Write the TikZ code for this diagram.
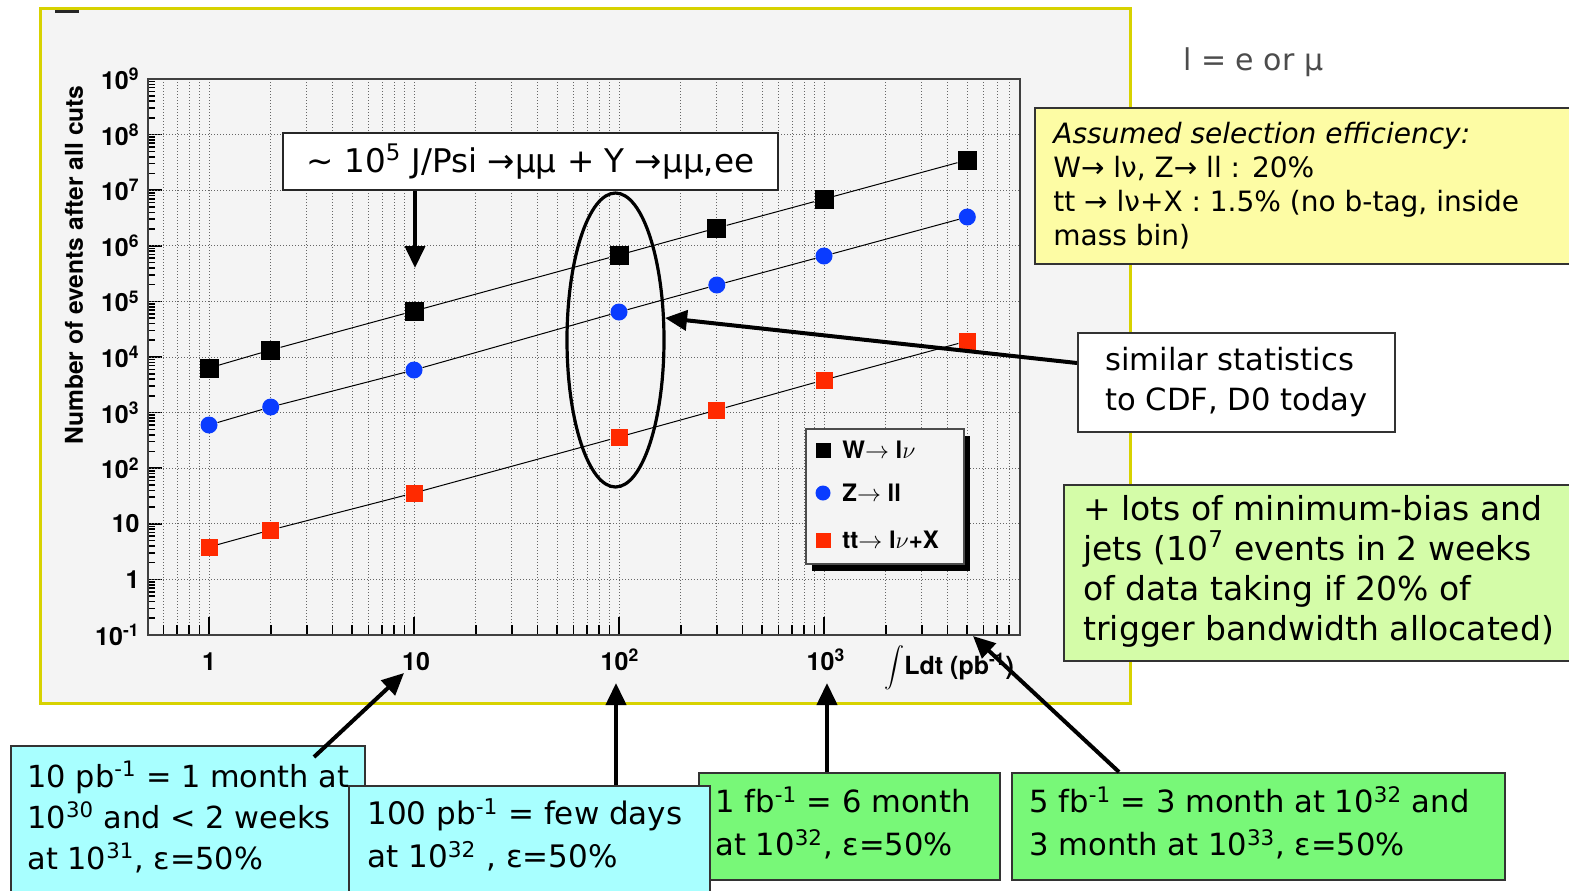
\documentclass[tikz,border=0pt]{standalone}
\usepackage{fontspec}
\setmainfont{DejaVu Sans}
\newfontfamily\hv{TeX Gyre Heros}
\usetikzlibrary{arrows.meta,shapes.geometric}
\definecolor{panelbg}{HTML}{F4F4F4}
\definecolor{panelline}{RGB}{215,210,0}
\definecolor{yelbox}{HTML}{FDFCA4}
\definecolor{ltgreen}{HTML}{D4FCA8}
\definecolor{cyanbox}{HTML}{A8FFFF}
\definecolor{greenbox}{HTML}{78F878}
\definecolor{zblue}{HTML}{0A3CFF}
\definecolor{tred}{HTML}{FF2A00}
\begin{document}
\begin{tikzpicture}[x=0.5pt,y=-0.5pt,
  boxline/.style={draw=black!80, line width=1pt},
  arr/.style={line width=2pt, -{Triangle[length=11pt,width=10pt]}},
  wm/.style={rectangle, fill=black, minimum size=9.5pt, inner sep=0pt},
  zm/.style={circle, fill=zblue, minimum size=8.5pt, inner sep=0pt},
  tm/.style={rectangle, fill=tred, minimum size=8.5pt, inner sep=0pt},
  ser/.style={line width=0.5pt, black},
  gridv/.style={densely dotted, black!60, line width=0.5pt},
  tick/.style={line width=0.8pt, black},
  ylab/.style={font=\hv\bfseries\fontsize{12.5}{14}\selectfont, inner sep=0pt},
  legtxt/.style={font=\hv\bfseries\fontsize{12}{14}\selectfont, inner sep=0pt, anchor=west},
  txt/.style={inner sep=0pt, align=left, anchor=west}
]
\useasboundingbox (0,0) rectangle (1569,890);
\fill[white] (0,0) rectangle (1569,890);
% plot panel
\draw[panelline, line width=1.5pt, fill=panelbg] (40,8) rectangle (1130,703);
\draw[line width=1.5pt, black!85] (55,11) -- (79,11);
% vertical grid + x ticks
\foreach \d in {-1,0,1,2,3}{
  \foreach \m in {1,...,9}{
    \pgfmathsetmacro\xx{209+205*(\d+log10(\m))}
    \pgfmathtruncatemacro\ok{(\xx>150 && \xx<1018) ? 1 : 0}
    \pgfmathtruncatemacro\tl{\m==1 ? 18 : 10}
    \ifnum\ok=1
      \draw[gridv] (\xx,79) -- (\xx,635);
      \draw[tick] (\xx,635) -- (\xx,635-\tl);
    \fi
  }
}
% horizontal grid + y ticks
\foreach \e in {-1,...,8}{
  \foreach \m in {1,...,9}{
    \pgfmathsetmacro\yy{579.4-55.6*(\e+log10(\m))}
    \pgfmathtruncatemacro\tl{\m==1 ? 14 : 7}
    \draw[tick] (148,\yy) -- (148+\tl,\yy);
  }
}
\foreach \e in {0,...,8}{
  \draw[gridv] (148,{579.4-55.6*\e}) -- (1020,{579.4-55.6*\e});
}
\draw[black!75, line width=1pt] (148,79) rectangle (1020,635);
% y labels
\foreach \e/\lab in {9/10\textsuperscript{9},8/10\textsuperscript{8},7/10\textsuperscript{7},6/10\textsuperscript{6},5/10\textsuperscript{5},4/10\textsuperscript{4},3/10\textsuperscript{3},2/10\textsuperscript{2},1/10,0/1,-1/10\textsuperscript{-1}}{
  \node[ylab, anchor=east] (yl\e) at (140,{579.4-55.6*\e}) {\lab};
}
\node[ylab, rotate=90, font=\hv\bfseries\fontsize{12.3}{14}\selectfont] (ytitle) at (74,265) {Number of events after all cuts};
% x labels
\node[ylab] (xl1) at (209,662) {1};
\node[ylab] (xl10) at (416,662) {10};
\node[ylab] (xl100) at (620,660) {10\textsuperscript{2}};
\node[ylab] (xl1000) at (826,660) {10\textsuperscript{3}};
\node[ylab, anchor=west] (xtitle) at (884,668) {$\displaystyle\int$Ldt (pb\textsuperscript{-1})};
% data
\foreach \i/\x/\y in {1/209/368,2/270.7/350,3/414/311,4/619/255,5/716.8/228,6/824/199,7/967.3/160}
  \node[wm] (w\i) at (\x,\y) {};
\foreach \i/\x/\y in {1/209/425,2/270.7/407,3/414/370,4/619/312,5/716.8/285,6/824/256,7/967.3/217}
  \node[zm] (z\i) at (\x,\y) {};
\foreach \i/\x/\y in {1/209/547,2/270.7/530,3/414/493,4/619/437,5/716.8/410,6/824/380,7/967.3/341}
  \node[tm] (t\i) at (\x,\y) {};
\draw[ser] (w1)--(w2)--(w3)--(w4)--(w5)--(w6)--(w7);
\draw[ser] (z1)--(z2)--(z3)--(z4)--(z5)--(z6)--(z7);
\draw[ser] (t1)--(t2)--(t3)--(t4)--(t5)--(t6)--(t7);
% legend
\node[rectangle, fill=black, minimum width=79pt, minimum height=67.5pt, inner sep=0pt, anchor=north west] (legshadow) at (812,436) {};
\node[rectangle, fill=panelbg, draw=black!70, line width=0.8pt, minimum width=79pt, minimum height=67.5pt, inner sep=0pt, anchor=north west] (leg) at (805,428) {};
\node[wm, minimum size=7.5pt] (lw) at (823,450) {};
\node[zm, minimum size=7.5pt] (lz) at (823,493) {};
\node[tm, minimum size=7.5pt] (lt) at (823,540) {};
\node[legtxt] (lwt) at (842,450) {W$\rightarrow$ l$\nu$};
\node[legtxt] (lzt) at (842,493) {Z$\rightarrow$ ll};
\node[legtxt] (ltt) at (842,540) {tt$\rightarrow$ l$\nu$+X};
% J/psi box
\node[rectangle, fill=white, draw=black!85, line width=1.2pt, minimum width=247.5pt, minimum height=28.5pt, inner sep=0pt, font=\fontsize{16.3}{18}\selectfont] (jpsi) at (530.5,161.5) {∼ 10\textsuperscript{5} J/Psi →μμ + Y →μμ,ee};
\coordinate (jtip) at (415,268);
\draw[arr] (jpsi.south -| jtip) -- (jtip);
% ellipse
\node[ellipse, draw=black, line width=1.6pt, minimum width=48.5pt, minimum height=147pt, inner sep=0pt] (ell) at (615.5,340) {};
% right side
\node[txt, text=black!70, font=\fontsize{15}{17}\selectfont] (lemu) at (1183,62) {l = e or μ};
\node[boxline, fill=yelbox, rectangle, minimum width=272pt, minimum height=78pt, inner sep=0pt, anchor=north west] (yb) at (1034,107) {};
\node[txt, font=\fontsize{14}{17}\selectfont] (ybt) at (1053,186) {\textit{Assumed selection efficiency:}\\W→ lν, Z→ ll : 20\%\\tt → lν+X : 1.5\% (no b-tag, inside\\mass bin)};
\node[boxline, fill=white, rectangle, minimum width=158.5pt, minimum height=49.5pt, inner sep=0pt, align=left, font=\fontsize{15.3}{20}\selectfont] (sim) at (1236.5,382.5) {similar statistics\\to CDF, D0 today};
\coordinate (simstart) at ([yshift=9.75pt]sim.west);
\draw[arr] (simstart) -- (ell.24);
\node[boxline, fill=ltgreen, rectangle, minimum width=258pt, minimum height=88pt, inner sep=0pt, anchor=north west] (gb) at (1063,484) {};
\node[txt, font=\fontsize{16.5}{20}\selectfont] (gbt) at (1083,571) {+ lots of minimum-bias and\\jets (10\textsuperscript{7} events in 2 weeks\\of data taking if 20\% of\\trigger bandwidth allocated)};
% bottom boxes
\node[boxline, fill=cyanbox, rectangle, minimum width=177pt, minimum height=78pt, inner sep=0pt, anchor=north west] (c1) at (10,745) {};
\node[txt, font=\fontsize{15.2}{20.5}\selectfont] (c1t) at (27,817) {10 pb\textsuperscript{-1} = 1 month at\\10\textsuperscript{30} and < 2 weeks\\at 10\textsuperscript{31}, ε=50\%};
\node[boxline, fill=greenbox, rectangle, minimum width=150.5pt, minimum height=53.5pt, inner sep=0pt, anchor=north west] (g3) at (698,772) {};
\node[txt, font=\fontsize{15.3}{21.5}\selectfont] (g3t) at (715,823) {1 fb\textsuperscript{-1} = 6 month\\at 10\textsuperscript{32}, ε=50\%};
\node[boxline, fill=greenbox, rectangle, minimum width=246.5pt, minimum height=53.5pt, inner sep=0pt, anchor=north west] (g4) at (1011,772) {};
\node[txt, font=\fontsize{15.3}{21.5}\selectfont] (g4t) at (1029,823) {5 fb\textsuperscript{-1} = 3 month at 10\textsuperscript{32} and\\3 month at 10\textsuperscript{33}, ε=50\%};
\node[boxline, fill=cyanbox, rectangle, minimum width=180.5pt, minimum height=58pt, inner sep=0pt, anchor=north west] (c2) at (348,785) {};
\node[txt, font=\fontsize{15.5}{21.5}\selectfont] (c2t) at (367,835) {100 pb\textsuperscript{-1} = few days\\at 10\textsuperscript{32} , ε=50\%};
% arrows from bottom boxes
\coordinate (c1s) at (314,757);
\coordinate (t10) at (404,673);
\coordinate (t100) at (616,683);
\coordinate (t1000) at (827,683);
\coordinate (g4s) at (1119,772);
\coordinate (t5000) at (973,636);
\draw[arr] (c1s) -- (t10);
\draw[arr] (c2.north -| t100) -- (t100);
\draw[arr] (g3.north -| t1000) -- (t1000);
\draw[arr] (g4s) -- (t5000);
\end{tikzpicture}
\end{document}
